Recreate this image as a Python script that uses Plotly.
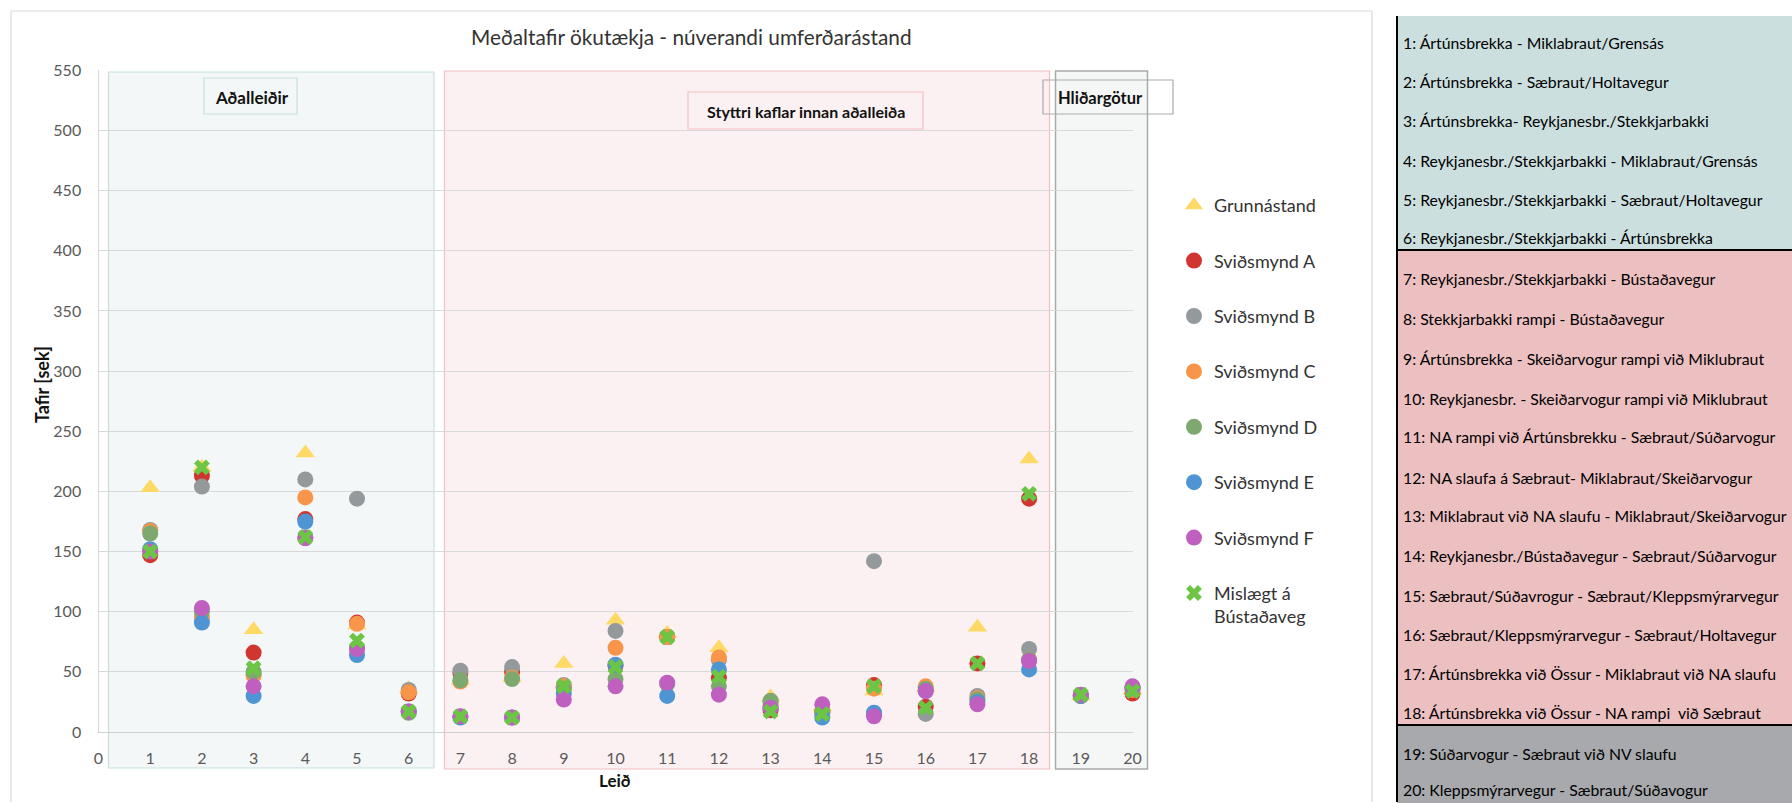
import plotly.graph_objects as go

# ---- data -------------------------------------------------------------
routes = list(range(1, 21))

grunnastand = [203, 220, 85, 232, 89, 36, 43, 45, 57, 93, 82, 70, 29, 21, 34, 37, 87, 227, 30, 35]
svidsmynd_a = [147, 213, 66, 177, 91, 32, 49, 50, 37, 55, 79, 45, 18, 16, 39, 21, 57, 194, 30, 32]
svidsmynd_b = [168, 204, 48, 210, 194, 35, 51, 54, 39, 84, 79, 60, 25, 18, 142, 15, 30, 69, 30, 36]
svidsmynd_c = [167, 95, 47, 195, 90, 33, 42, 45, 38, 70, 79, 62, 22, 17, 36, 38, 28, 60, 30, 35]
svidsmynd_d = [165, 100, 50, 162, 70, 16, 43, 44, 36, 44, 40, 38, 26, 16, 15, 36, 27, 60, 30, 36]
svidsmynd_e = [152, 91, 30, 175, 64, 17, 12, 12, 32, 56, 30, 52, 20, 12, 16, 34, 25, 52, 30, 37]
svidsmynd_f = [150, 103, 38, 161, 69, 17, 13, 12, 27, 38, 41, 31, 20, 23, 13, 34, 23, 59, 31, 38]
mislaegt = [150, 220, 53, 162, 76, 17, 13, 12, 38, 54, 79, 46, 17, 15, 38, 20, 57, 198, 31, 34]

route_names = [
    "1: Ártúnsbrekka - Miklabraut/Grensás",
    "2: Ártúnsbrekka - Sæbraut/Holtavegur",
    "3: Ártúnsbrekka- Reykjanesbr./Stekkjarbakki",
    "4: Reykjanesbr./Stekkjarbakki - Miklabraut/Grensás",
    "5: Reykjanesbr./Stekkjarbakki - Sæbraut/Holtavegur",
    "6: Reykjanesbr./Stekkjarbakki - Ártúnsbrekka",
    "7: Reykjanesbr./Stekkjarbakki - Bústaðavegur",
    "8: Stekkjarbakki rampi - Bústaðavegur",
    "9: Ártúnsbrekka - Skeiðarvogur rampi við Miklubraut",
    "10: Reykjanesbr. - Skeiðarvogur rampi við Miklubraut",
    "11: NA rampi við Ártúnsbrekku - Sæbraut/Súðarvogur",
    "12: NA slaufa á Sæbraut- Miklabraut/Skeiðarvogur",
    "13: Miklabraut við NA slaufu - Miklabraut/Skeiðarvogur",
    "14: Reykjanesbr./Bústaðavegur - Sæbraut/Súðarvogur",
    "15: Sæbraut/Súðavrogur - Sæbraut/Kleppsmýrarvegur",
    "16: Sæbraut/Kleppsmýrarvegur - Sæbraut/Holtavegur",
    "17: Ártúnsbrekka við Össur - Miklabraut við NA slaufu",
    "18: Ártúnsbrekka við Össur - NA rampi  við Sæbraut",
    "19: Súðarvogur - Sæbraut við NV slaufu",
    "20: Kleppsmýrarvegur - Sæbraut/Súðavogur",
]

series = [
    ("Grunnástand", grunnastand, "#FFD966", "triangle-up", 17),
    ("Sviðsmynd A", svidsmynd_a, "#D0362F", "circle", 16),
    ("Sviðsmynd B", svidsmynd_b, "#949A9C", "circle", 16),
    ("Sviðsmynd C", svidsmynd_c, "#F7964A", "circle", 16),
    ("Sviðsmynd D", svidsmynd_d, "#7DA870", "circle", 16),
    ("Sviðsmynd E", svidsmynd_e, "#4F95D3", "circle", 16),
    ("Sviðsmynd F", svidsmynd_f, "#BF60C0", "circle", 16),
    ("Mislægt á<br>Bústaðaveg", mislaegt, "#6CC544", "x", 14),
]

W, H = 1792, 803
FONT = "Lato, 'Open Sans', sans-serif"


def px(x):
    return x / W


def py(y):
    return 1 - y / H


fig = go.Figure()

for name, values, color, symbol, size in series:
    fig.add_trace(go.Scatter(
        x=routes, y=values, mode="markers", name=name, legendgroup=name,
        marker=dict(color=color, symbol=symbol, size=size, line=dict(width=0)),
        cliponaxis=False,
    ))

shapes = []
annotations = []


def rect(x0, y0, x1, y1, fill, line, lw=1.2, layer="below"):
    shapes.append(dict(type="rect", xref="paper", yref="paper",
                       x0=px(x0), x1=px(x1), y0=py(y1), y1=py(y0),
                       fillcolor=fill, line=dict(color=line, width=lw), layer=layer))


def seg(x0, y0, x1, y1, color, lw, layer="above"):
    shapes.append(dict(type="line", xref="paper", yref="paper",
                       x0=px(x0), x1=px(x1), y0=py(y0), y1=py(y1),
                       line=dict(color=color, width=lw), layer=layer))


# chart area frame (runs off the bottom of the page)
seg(11, 11, 1372, 11, "#D9D9D9", 1.2, "below")
seg(11, 11, 11, 802, "#D9D9D9", 1.2, "below")
seg(1372, 11, 1372, 802, "#D9D9D9", 1.2, "below")

# route-group bands
rect(108.5, 72, 434, 768, "rgba(214,230,230,0.30)", "#C9DFDF", 1.2)
rect(444.5, 71, 1049.5, 769, "rgba(245,214,218,0.35)", "#F4BEC3", 1.2)
rect(1055.5, 71, 1147.5, 769, "rgba(222,226,226,0.30)", "#A9ABAB", 1.5)

# band captions
rect(204, 78, 297, 114, "rgba(0,0,0,0)", "#C9DFDF", 1.2)
rect(688, 92, 923, 129, "rgba(0,0,0,0)", "#F4BEC3", 1.2)
rect(1043, 80, 1173, 114, "rgba(0,0,0,0)", "#A9ABAB", 1.2)

for text, cx, cy, fs in [("<b>Aðalleiðir</b>", 252, 97, 17),
                         ("<b>Styttri kaflar innan aðalleiða</b>", 805.5, 111, 16),
                         ("<b>Hliðargötur</b>", 1100, 98, 16.5)]:
    annotations.append(dict(text=text, x=px(cx), y=py(cy), xref="paper", yref="paper",
                            showarrow=False, xanchor="center", yanchor="middle",
                            font=dict(family=FONT, size=fs, color="#111111")))

# title and axis titles
annotations.append(dict(text="Meðaltafir ökutækja - núverandi umferðarástand",
                        x=px(691), y=py(37), xref="paper", yref="paper", showarrow=False,
                        xanchor="center", yanchor="middle",
                        font=dict(family=FONT, size=20.8, color="#333333")))
annotations.append(dict(text="<b>Tafir [sek]</b>", x=px(42), y=py(385), xref="paper", yref="paper",
                        showarrow=False, textangle=-90, xanchor="center", yanchor="middle",
                        font=dict(family=FONT, size=18, color="#111111")))
annotations.append(dict(text="<b>Leið</b>", x=px(615), y=py(780), xref="paper", yref="paper",
                        showarrow=False, xanchor="center", yanchor="middle",
                        font=dict(family=FONT, size=17, color="#111111")))

# route key table on the right
rect(1397, 16, W, 250, "#CCDFDF", "rgba(0,0,0,0)", 0, layer="above")
rect(1397, 250, W, 725, "#ECBFC0", "rgba(0,0,0,0)", 0, layer="above")
rect(1397, 725, W, H, "#A7A9AC", "rgba(0,0,0,0)", 0, layer="above")
seg(1397, 16, 1397, H - 1, "#000000", 2)
seg(1397, 250, W, 250, "#000000", 2.2)
seg(1397, 725, W, 725, "#000000", 2.2)

row_y = [43, 82, 121, 160, 199, 237, 278, 318, 358, 398,
         437, 477, 515, 555, 595, 634, 673, 712, 753, 789]
for label, ry in zip(route_names, row_y):
    annotations.append(dict(text=label, x=px(1401), y=py(ry), xref="paper", yref="paper",
                            showarrow=False, xanchor="left", yanchor="middle",
                            font=dict(family=FONT, size=15.8, color="#000000")))

fig.update_layout(
    width=W, height=H, autosize=False,
    margin=dict(l=0, r=0, t=0, b=0, pad=0, autoexpand=False),
    paper_bgcolor="white",
    plot_bgcolor="rgba(0,0,0,0)",
    font=dict(family=FONT, color="#595959"),
    shapes=shapes,
    annotations=annotations,
    showlegend=True,
    legend=dict(x=px(1174), y=py(187), xanchor="left", yanchor="top",
                xref="paper", yref="paper", bgcolor="rgba(0,0,0,0)",
                font=dict(family=FONT, size=18, color="#333333"),
                tracegroupgap=29, valign="top", itemclick=False),
    xaxis=dict(domain=[px(98.5), px(1132.5)], range=[0, 20], tick0=0, dtick=1,
               automargin=False,
               showgrid=False, zeroline=False, showline=True, linecolor="#D0D0D0",
               linewidth=1.2, ticks="", ticklabelstandoff=12,
               tickfont=dict(family=FONT, size=16, color="#595959")),
    yaxis=dict(domain=[1 - 732 / H, 1 - 70.4 / H], range=[0, 550], tick0=0, dtick=50,
               automargin=False,
               showgrid=True, gridcolor="#D9D9D9", gridwidth=1.2, zeroline=False,
               showline=True, linecolor="#D9D9D9", linewidth=1.2, ticks="",
               ticklabelstandoff=13,
               tickfont=dict(family=FONT, size=16, color="#595959")),
)

fig.write_html("out.html")
